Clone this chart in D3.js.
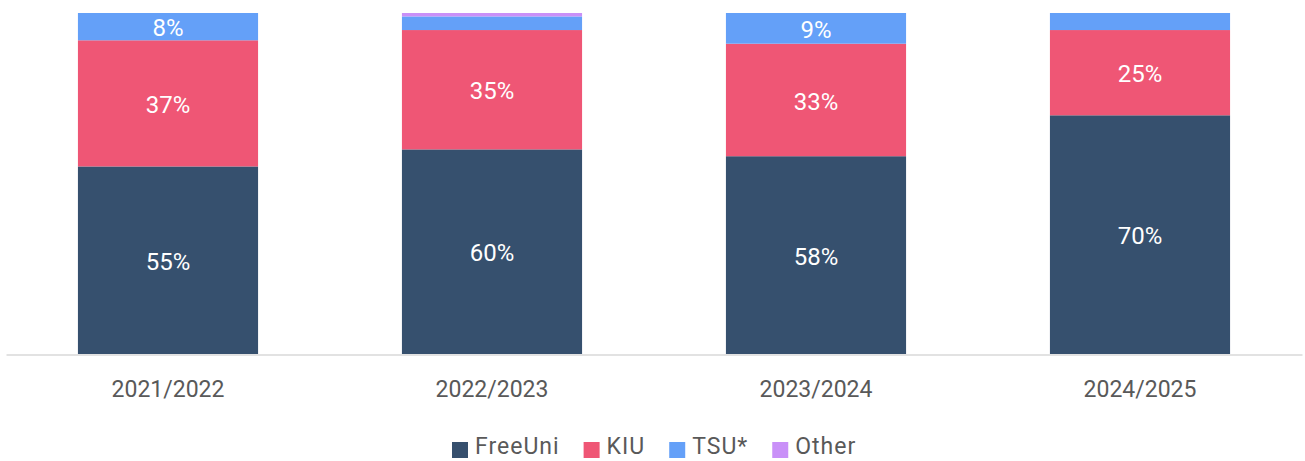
<!DOCTYPE html>
<html>
<head>
<meta charset="utf-8">
<script src="https://cdn.jsdelivr.net/npm/d3@7"></script>
<style>
  body { margin: 0; background: #fff; }
  svg text { font-family: "Roboto", "Lato", sans-serif; font-weight: 400; }
</style>
</head>
<body>
<div id="chart"></div>
<script>
var years = ["2021/2022", "2022/2023", "2023/2024", "2024/2025"];
var series = ["FreeUni", "KIU", "TSU*", "Other"];
var freeUni = [55, 60, 58, 70];
var kiu = [37, 35, 33, 25];
var tsu = [8, 4, 9, 5];
var other = [0, 1, 0, 0];
var colors = ["#36506e", "#ef5675", "#64a0f8", "#c990f8"];
// labels shown only where the chart shows them
var showLabel = [[true, true, true, true], [true, true, true, true], [true, false, true, false], [false, false, false, false]];

var width = 1305, height = 461;
var margin = {left: 6, right: 3, top: 13, bottom: 107};

var rows = years.map(function(y, i) {
    return {year: y, "FreeUni": freeUni[i], "KIU": kiu[i], "TSU*": tsu[i], "Other": other[i]};
});

var stack = d3.stack().keys(series)(rows);

var svg = d3.select("#chart").append("svg")
    .attr("width", width)
    .attr("height", height);

var xScale = d3.scaleBand()
    .domain(years)
    .range([margin.left, width - margin.right])
    .paddingInner(0.444)
    .paddingOuter(0.222);

var yScale = d3.scaleLinear()
    .domain([0, 100])
    .range([height - margin.bottom, margin.top]);

var layers = svg.selectAll("g.layer")
    .data(stack)
    .enter().append("g")
    .attr("class", "layer")
    .attr("fill", function(d, i) { return colors[i]; });

layers.selectAll("rect")
    .data(function(d) { return d; })
    .enter().append("rect")
    .attr("x", function(d) { return xScale(d.data.year); })
    .attr("y", function(d) { return yScale(d[1]); })
    .attr("width", xScale.bandwidth())
    .attr("height", function(d) { return yScale(d[0]) - yScale(d[1]); });

layers.each(function(layer, si) {
    d3.select(this).selectAll("text")
        .data(layer.filter(function(d, i) { return showLabel[si][i]; }))
        .enter().append("text")
        .attr("x", function(d) { return xScale(d.data.year) + xScale.bandwidth() / 2; })
        .attr("y", function(d) { return (yScale(d[0]) + yScale(d[1])) / 2 + 1; })
        .attr("dy", "0.36em")
        .attr("text-anchor", "middle")
        .attr("fill", "#fff")
        .style("font-size", "24px")
        .text(function(d) { return (d[1] - d[0]) + "%"; });
});

var xAxis = d3.axisBottom(xScale).tickSize(0).tickPadding(26);
var gx = svg.append("g")
    .attr("transform", "translate(0," + (height - margin.bottom + 0.5) + ")")
    .call(xAxis);
gx.select(".domain").attr("stroke", "#d9d9d9").attr("stroke-width", 1.5);
gx.selectAll("text")
    .attr("fill", "#595959")
    .style("font-size", "23px");

// legend
var legend = svg.append("g").attr("transform", "translate(0,446)");
var lx = 452;
series.forEach(function(s, i) {
    var g = legend.append("g").attr("transform", "translate(" + lx + ",0)");
    g.append("rect")
        .attr("x", 0).attr("y", -4)
        .attr("width", 16).attr("height", 16)
        .attr("fill", colors[i]);
    var t = g.append("text")
        .attr("x", 23).attr("y", 0)
        .attr("dy", "0.36em")
        .attr("fill", "#595959")
        .style("font-size", "23px")
        .style("letter-spacing", "1px")
        .text(s);
    lx += 23 + t.node().getComputedTextLength() + 24;
});
</script>
</body>
</html>
